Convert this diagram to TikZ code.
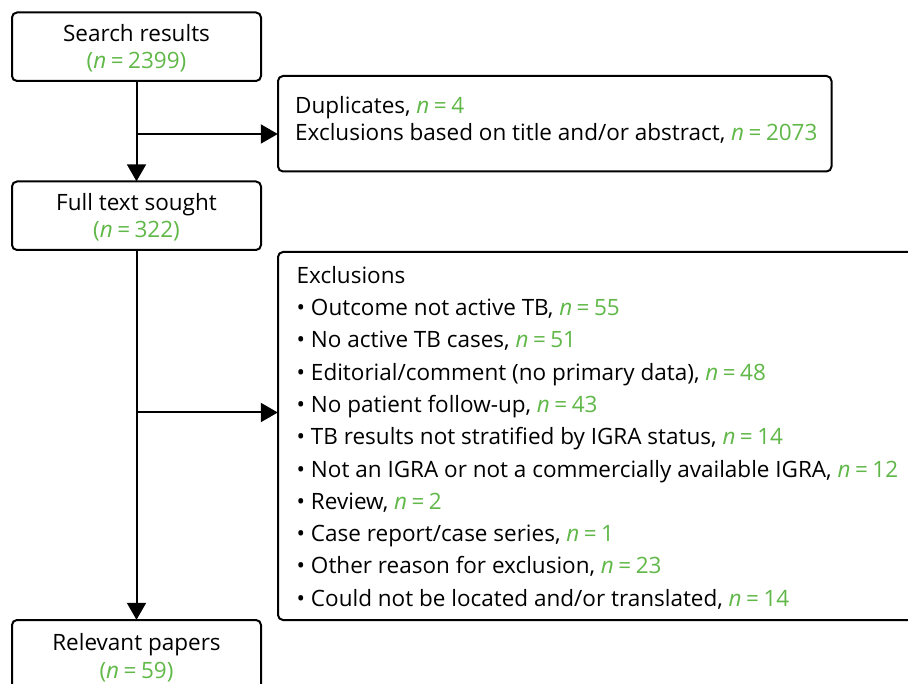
\documentclass[tikz,border=0pt]{standalone}
\usepackage{fontspec}
\setmainfont{Open Sans}
\usetikzlibrary{arrows.meta,positioning}
\definecolor{ngreen}{RGB}{96,184,72}
\newcommand{\nn}[1]{{\color{ngreen}\textit{n}\hspace{0.2em}=\hspace{0.2em}#1}}
\tikzset{
  box/.style={draw=black, line width=2pt, rounded corners=5pt, inner sep=0pt},
  txt/.style={inner sep=0pt, align=center, font=\fontsize{22.5}{27.5}\selectfont},
  ltxt/.style={inner sep=0pt, align=left, anchor=north west, font=\fontsize{22.5}{27}\selectfont},
  arr/.style={line width=2pt, -{Triangle[length=17pt,width=19pt]}},
  conn/.style={line width=2pt}
}
\begin{document}
\begin{tikzpicture}[x=1pt,y=-1pt]
\clip (0,0) rectangle (908,684);
\fill[white] (0,0) rectangle (908,684);
% left boxes
\draw[box] (12,12.5) rectangle (261,81);
\node[inner sep=0pt, minimum width=249pt, minimum height=68.5pt] (b1) at (136.5,46.75) {};
\node[txt] (t1) at (136.5,48) {Search results\\\color{ngreen}(\textit{n}\hspace{0.2em}=\hspace{0.2em}2399)};

\draw[box] (12,181.5) rectangle (261,250);
\node[inner sep=0pt, minimum width=249pt, minimum height=68.5pt] (b3) at (136.5,215.75) {};
\node[txt] (t3) at (136.5,217) {Full text sought\\\color{ngreen}(\textit{n}\hspace{0.2em}=\hspace{0.2em}322)};

\draw[box] (12,620) rectangle (261,720);
\node[inner sep=0pt, minimum width=249pt, minimum height=100pt] (b5) at (136.5,670) {};
\node[txt] (t5) at (136.5,657.5) {Relevant papers\\\color{ngreen}(\textit{n}\hspace{0.2em}=\hspace{0.2em}59)};

% right boxes
\draw[box] (278,76) rectangle (831.5,171.5);
\node[inner sep=0pt, minimum width=553.5pt, minimum height=95.5pt] (b2) at (554.75,123.75) {};
\node[ltxt] (t2) at (295,96) {Duplicates, \nn{4}\\Exclusions based on title and/or abstract, \nn{2073}};

\draw[box] (278,252) rectangle (930,620);
\node[inner sep=0pt, minimum width=652pt, minimum height=368pt] (b4) at (604,436) {};
\node[ltxt, font=\fontsize{22.5}{32.3}\selectfont] (t4) at (296.5,266) {Exclusions\\
\textbullet\ Outcome not active TB, \nn{55}\\
\textbullet\ No active TB cases, \nn{51}\\
\textbullet\ Editorial/comment (no primary data), \nn{48}\\
\textbullet\ No patient follow-up, \nn{43}\\
\textbullet\ TB results not stratified by IGRA status, \nn{14}\\
\textbullet\ Not an IGRA or not a commercially available IGRA, \nn{12}\\
\textbullet\ Review, \nn{2}\\
\textbullet\ Case report/case series, \nn{1}\\
\textbullet\ Other reason for exclusion, \nn{23}\\
\textbullet\ Could not be located and/or translated, \nn{14}};

% connectors
\coordinate (j1) at (136.5,134);
\coordinate (j2) at (136.5,412.5);
\draw[arr] (b1.south) -- (b3.north);
\draw[arr] (j1) -- (b2.west |- j1);
\draw[arr] (b3.south) -- (b5.north);
\draw[arr] (j2) -- (b4.west |- j2);
\end{tikzpicture}
\end{document}
